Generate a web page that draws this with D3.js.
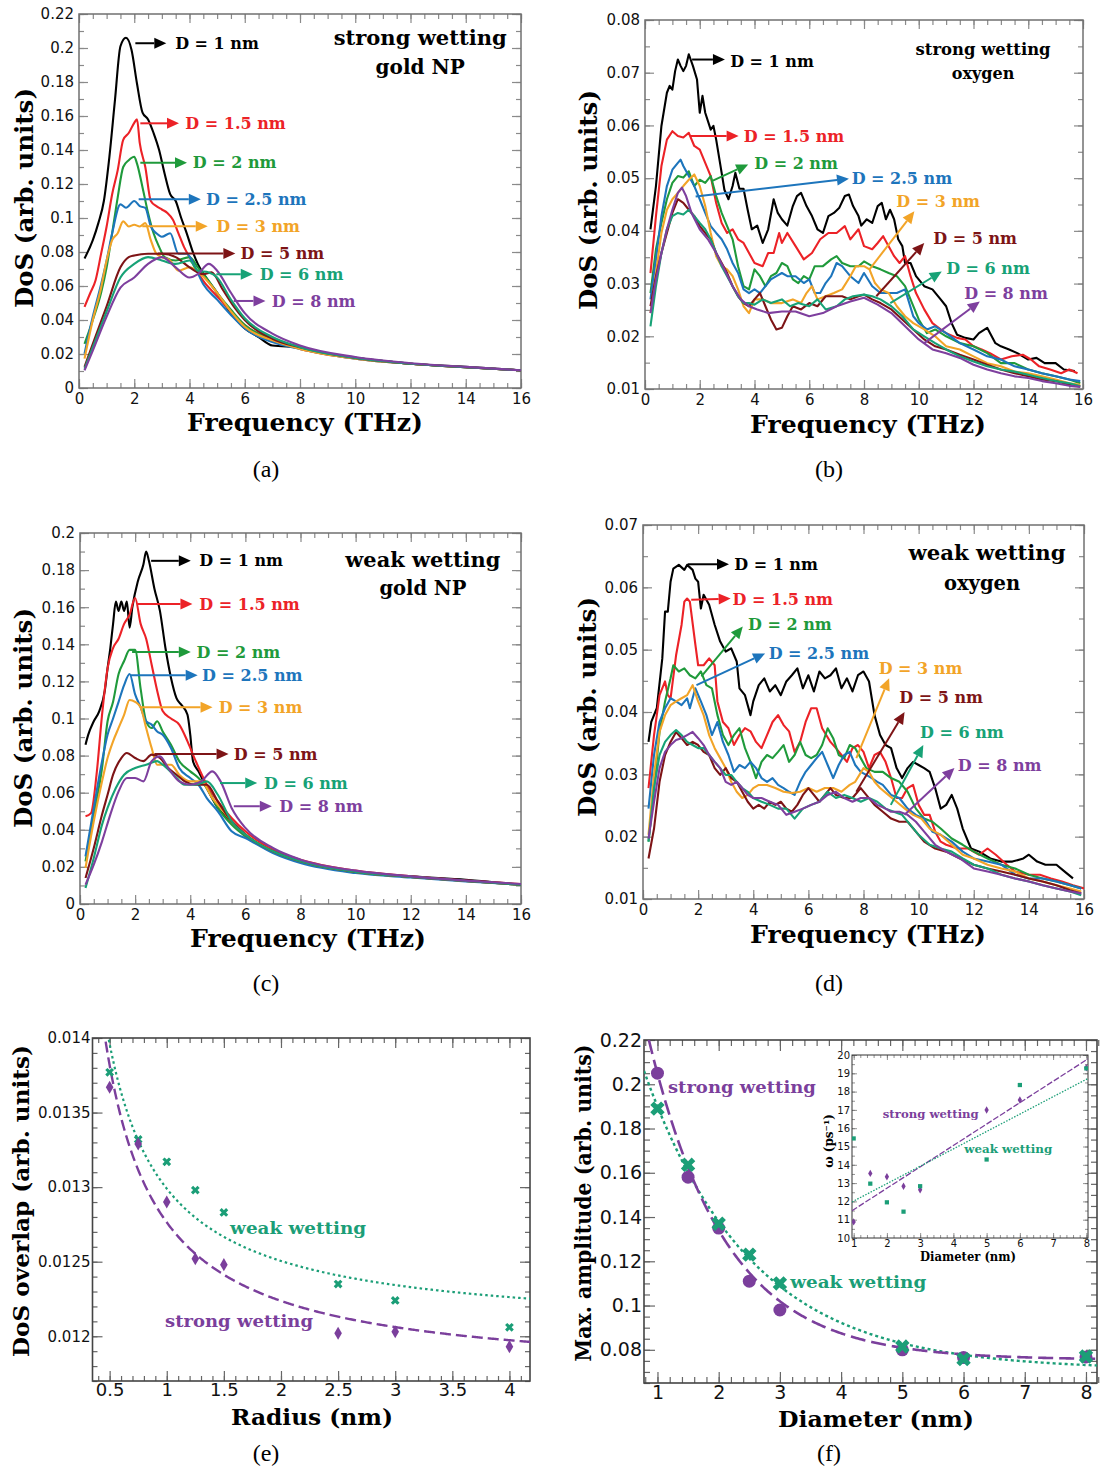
<!DOCTYPE html>
<html><head><meta charset="utf-8">
<script src="https://cdn.jsdelivr.net/npm/d3@7"></script>
<style>body{margin:0;background:#fff}svg{display:block}</style>
</head><body><svg id="c" width="1100" height="1468"></svg>
<script>
// ---------------- DATA ----------------
const diameters = ["1", "1.5", "2", "2.5", "3", "5", "6", "8"];
const freqTicks = [0, 2, 4, 6, 8, 10, 12, 14, 16];

// (a) strong wetting, gold NP   [frequency THz, DoS]
const a_D1 = [[0.2,0.0762],[0.5,0.087],[0.7,0.097],[0.9,0.11],[1.1,0.136],[1.3,0.169],[1.5,0.201],[1.7,0.206],[1.9,0.199],[2.1,0.179],[2.3,0.162],[2.5,0.158],[2.7,0.15],[2.9,0.14],[3.1,0.126],[3.3,0.114],[3.5,0.11],[3.7,0.1],[3.9,0.091],[4.1,0.081],[4.3,0.073],[4.6,0.065],[5,0.056],[5.5,0.044],[6,0.035],[6.5,0.03],[7,0.025],[8,0.024],[9,0.02],[10,0.0177],[12,0.0143],[14,0.0124],[16,0.0104]];
const a_D1_5 = [[0.2,0.0477],[0.4,0.0556],[0.6,0.0634],[0.8,0.079],[1,0.095],[1.2,0.114],[1.4,0.128],[1.6,0.146],[1.8,0.15],[2,0.156],[2.1,0.158],[2.2,0.144],[2.4,0.13],[2.6,0.11],[2.8,0.107],[3,0.105],[3.2,0.103],[3.4,0.099],[3.6,0.091],[3.8,0.083],[4,0.077],[4.5,0.063],[5,0.054],[5.5,0.045],[6,0.037],[7,0.028],[8,0.023],[10,0.0173],[12,0.0143],[14,0.0122],[16,0.0104]];
const a_D2 = [[0.2,0.026],[0.5,0.04],[0.8,0.056],[1,0.071],[1.2,0.091],[1.4,0.112],[1.6,0.13],[1.8,0.134],[2,0.136],[2.1,0.132],[2.3,0.118],[2.5,0.103],[2.7,0.091],[2.9,0.083],[3.1,0.077],[3.5,0.075],[4,0.077],[4.3,0.071],[4.6,0.065],[5,0.056],[5.5,0.046],[6,0.037],[7,0.029],[8,0.024],[10,0.0177],[12,0.0143],[14,0.0122],[16,0.0104]];
const a_D2_5 = [[0.2,0.0202],[0.5,0.042],[0.8,0.061],[1,0.075],[1.2,0.091],[1.5,0.108],[1.7,0.106],[2,0.11],[2.2,0.107],[2.4,0.106],[2.6,0.095],[2.8,0.091],[3,0.089],[3.3,0.091],[3.6,0.079],[3.9,0.079],[4.2,0.071],[4.5,0.061],[5,0.052],[5.5,0.043],[6,0.035],[7,0.027],[8,0.023],[10,0.0173],[12,0.0143],[14,0.0122],[16,0.0104]];
const a_D3 = [[0.2,0.0173],[0.5,0.04],[0.8,0.059],[1,0.075],[1.2,0.087],[1.4,0.091],[1.6,0.098],[1.8,0.095],[2,0.096],[2.2,0.095],[2.4,0.097],[2.6,0.087],[2.8,0.079],[3,0.077],[3.3,0.075],[3.6,0.069],[4,0.071],[4.4,0.067],[5,0.056],[5.5,0.045],[6,0.036],[7,0.028],[8,0.023],[10,0.0173],[12,0.0143],[14,0.0122],[16,0.0104]];
const a_D5 = [[0.2,0.0124],[0.5,0.026],[1,0.048],[1.5,0.071],[1.8,0.077],[2,0.078],[2.5,0.079],[3,0.079],[3.5,0.077],[4,0.071],[4.5,0.067],[4.8,0.068],[5.2,0.058],[5.6,0.048],[6,0.04],[7,0.029],[8,0.024],[10,0.0177],[12,0.0143],[14,0.0122],[16,0.0104]];
const a_D6 = [[0.2,0.0114],[0.5,0.024],[1,0.045],[1.5,0.065],[2,0.073],[2.5,0.077],[3,0.075],[3.5,0.073],[4,0.075],[4.3,0.069],[4.7,0.068],[5,0.065],[5.5,0.052],[6,0.041],[7,0.03],[8,0.024],[10,0.0177],[12,0.0143],[14,0.0122],[16,0.0104]];
const a_D8 = [[0.2,0.0104],[0.5,0.022],[1,0.042],[1.5,0.059],[2,0.065],[2.5,0.073],[3,0.077],[3.5,0.071],[4,0.065],[4.3,0.067],[4.7,0.073],[5,0.069],[5.5,0.056],[6,0.044],[7,0.032],[8,0.025],[10,0.0182],[12,0.0146],[14,0.0124],[16,0.0104]];

// (b) strong wetting, oxygen
const b_D1 = [[0.2,0.0403],[0.4,0.0485],[0.6,0.0599],[0.8,0.0662],[0.9,0.0675],[1,0.0668],[1.1,0.0703],[1.2,0.0725],[1.3,0.0713],[1.4,0.0703],[1.5,0.0713],[1.6,0.0735],[1.75,0.0713],[1.9,0.0687],[2,0.0624],[2.1,0.0656],[2.2,0.0624],[2.4,0.0592],[2.5,0.0599],[2.6,0.0573],[2.8,0.051],[2.9,0.0478],[3.05,0.046],[3.2,0.0485],[3.3,0.051],[3.45,0.048],[3.6,0.048],[3.75,0.044],[3.9,0.0403],[4.1,0.041],[4.3,0.0377],[4.5,0.0403],[4.7,0.046],[4.85,0.0434],[5,0.0422],[5.2,0.041],[5.4,0.0447],[5.55,0.0466],[5.7,0.0472],[5.9,0.0447],[6.1,0.0428],[6.3,0.0403],[6.5,0.0396],[6.7,0.0428],[6.9,0.0434],[7.1,0.0444],[7.3,0.0466],[7.45,0.0469],[7.6,0.0447],[7.8,0.0428],[7.9,0.041],[8.1,0.0422],[8.3,0.0415],[8.5,0.0447],[8.65,0.0453],[8.8,0.0422],[8.95,0.044],[9.1,0.0422],[9.25,0.0384],[9.4,0.0371],[9.5,0.0339],[9.7,0.0339],[9.9,0.0314],[10.2,0.0295],[10.5,0.0289],[10.8,0.027],[11,0.0257],[11.2,0.0225],[11.4,0.0203],[11.7,0.0197],[12,0.0194],[12.2,0.0206],[12.5,0.0216],[12.8,0.0187],[13,0.0181],[13.3,0.0175],[13.6,0.0168],[14,0.0156],[14.3,0.0159],[14.6,0.0149],[15,0.0149],[15.3,0.0137],[15.7,0.0134]];
const b_D1_5 = [[0.2,0.032],[0.4,0.0428],[0.6,0.0523],[0.8,0.0573],[1,0.0589],[1.2,0.058],[1.4,0.0577],[1.6,0.0586],[1.8,0.0561],[2,0.0554],[2.2,0.0529],[2.4,0.0504],[2.6,0.0453],[2.8,0.0415],[3,0.0396],[3.2,0.0403],[3.4,0.0384],[3.6,0.0377],[3.8,0.0358],[4,0.0339],[4.3,0.0333],[4.5,0.0358],[4.7,0.0358],[4.9,0.0396],[5,0.0377],[5.2,0.0396],[5.5,0.0371],[5.8,0.0346],[6.1,0.0358],[6.4,0.0384],[6.7,0.0396],[7,0.0396],[7.3,0.0409],[7.5,0.0384],[7.8,0.0403],[8,0.0371],[8.3,0.0365],[8.5,0.0377],[8.7,0.039],[8.9,0.0371],[9.1,0.0352],[9.3,0.0339],[9.5,0.0352],[9.7,0.0314],[9.9,0.0282],[10.2,0.0251],[10.5,0.0225],[10.8,0.0213],[11,0.0206],[11.4,0.0197],[11.7,0.0194],[12,0.0181],[12.3,0.0175],[12.6,0.0168],[13,0.0156],[13.4,0.0162],[13.8,0.0165],[14.1,0.0156],[14.4,0.0143],[14.8,0.0137],[15.2,0.013],[15.5,0.0137],[15.8,0.013]];
const b_D2 = [[0.2,0.0282],[0.4,0.0365],[0.6,0.0415],[0.8,0.046],[1,0.0491],[1.2,0.0504],[1.4,0.0501],[1.6,0.0513],[1.8,0.0485],[2,0.0497],[2.2,0.0491],[2.4,0.0504],[2.6,0.0466],[2.8,0.0434],[3,0.0409],[3.2,0.0384],[3.4,0.0333],[3.6,0.0295],[3.8,0.0289],[4,0.0327],[4.2,0.0314],[4.4,0.0295],[4.6,0.0314],[4.8,0.032],[5,0.0339],[5.2,0.0333],[5.4,0.0308],[5.6,0.0301],[5.8,0.0314],[6,0.0308],[6.2,0.0333],[6.5,0.0333],[6.8,0.0346],[7,0.0352],[7.2,0.0339],[7.5,0.0333],[7.8,0.0333],[8,0.0342],[8.3,0.0333],[8.6,0.0327],[8.9,0.032],[9.2,0.0314],[9.5,0.0295],[9.7,0.027],[10,0.0232],[10.3,0.0206],[10.6,0.0213],[11,0.02],[11.5,0.0187],[12,0.0181],[12.5,0.0168],[13,0.0149],[13.5,0.0149],[14,0.0137],[14.5,0.013],[15,0.0124],[15.5,0.0118],[15.9,0.0111]];
const b_D2_5 = [[0.2,0.027],[0.4,0.0346],[0.6,0.0428],[0.8,0.0485],[1,0.0516],[1.2,0.0529],[1.3,0.0535],[1.4,0.0523],[1.6,0.0504],[1.8,0.0485],[2,0.046],[2.2,0.0434],[2.4,0.0409],[2.6,0.0396],[2.8,0.0384],[3,0.0365],[3.2,0.0339],[3.4,0.032],[3.6,0.0289],[3.8,0.0282],[4,0.0289],[4.2,0.0282],[4.4,0.0295],[4.6,0.0308],[4.8,0.0314],[5,0.032],[5.2,0.0314],[5.5,0.0314],[5.8,0.0301],[6,0.0308],[6.2,0.0282],[6.4,0.0282],[6.6,0.0301],[6.8,0.0314],[7,0.0339],[7.2,0.0333],[7.5,0.0314],[7.8,0.0301],[8,0.032],[8.3,0.0295],[8.6,0.0282],[8.9,0.0282],[9.2,0.0282],[9.5,0.0289],[9.8,0.0238],[10,0.0225],[10.3,0.0213],[10.6,0.0219],[11,0.0206],[11.5,0.0187],[12,0.0175],[12.5,0.0162],[13,0.0156],[13.5,0.0143],[14,0.0137],[14.5,0.013],[15,0.0124],[15.5,0.0118],[15.9,0.0115]];
const b_D3 = [[0.2,0.0244],[0.4,0.032],[0.6,0.0396],[0.8,0.044],[1,0.046],[1.2,0.0472],[1.4,0.0485],[1.6,0.0497],[1.8,0.0507],[2,0.0485],[2.2,0.0447],[2.4,0.0396],[2.6,0.0352],[2.8,0.0333],[3,0.0327],[3.2,0.0314],[3.4,0.0289],[3.6,0.0257],[3.8,0.0244],[4,0.027],[4.3,0.027],[4.6,0.0263],[5,0.0263],[5.4,0.027],[5.7,0.0263],[5.9,0.0282],[6.1,0.0295],[6.3,0.027],[6.6,0.0276],[6.9,0.0282],[7.2,0.0289],[7.5,0.0314],[7.7,0.0333],[8,0.0333],[8.2,0.0327],[8.4,0.0301],[8.6,0.0289],[8.9,0.0282],[9.2,0.0257],[9.5,0.0238],[9.8,0.0225],[10.2,0.0213],[10.6,0.02],[11,0.0181],[11.5,0.0175],[12,0.0162],[12.5,0.0149],[13,0.0143],[13.5,0.0133],[14,0.013],[14.5,0.0124],[15,0.0118],[15.5,0.0111],[15.9,0.0108]];
const b_D5 = [[0.2,0.0257],[0.4,0.0314],[0.6,0.0358],[0.8,0.0396],[1,0.0434],[1.2,0.046],[1.4,0.0453],[1.6,0.044],[1.8,0.0428],[2,0.0409],[2.2,0.0396],[2.4,0.0384],[2.6,0.0358],[2.8,0.0339],[3,0.032],[3.2,0.0295],[3.4,0.0276],[3.6,0.0263],[3.8,0.0257],[4,0.027],[4.2,0.0282],[4.4,0.0257],[4.6,0.0232],[4.8,0.0213],[5,0.0216],[5.2,0.0238],[5.4,0.0257],[5.7,0.0251],[6,0.0263],[6.3,0.0257],[6.6,0.0276],[6.9,0.0276],[7.2,0.0276],[7.5,0.027],[7.8,0.0276],[8,0.0279],[8.3,0.027],[8.6,0.0263],[9,0.0251],[9.4,0.0232],[9.8,0.0213],[10.2,0.0194],[10.6,0.0181],[11,0.0175],[11.5,0.0165],[12,0.0156],[12.5,0.0146],[13,0.0137],[13.5,0.013],[14,0.0124],[14.5,0.0118],[15,0.0115],[15.5,0.0108],[15.9,0.0105]];
const b_D6 = [[0.2,0.0219],[0.4,0.0295],[0.6,0.0358],[0.8,0.0403],[1,0.0428],[1.2,0.0434],[1.4,0.0431],[1.6,0.044],[1.8,0.0428],[2,0.0415],[2.2,0.0403],[2.4,0.0384],[2.6,0.0358],[2.8,0.0333],[3,0.0314],[3.2,0.0295],[3.4,0.0276],[3.6,0.0263],[3.8,0.0263],[4,0.026],[4.3,0.027],[4.6,0.0263],[5,0.027],[5.3,0.0257],[5.6,0.0263],[6,0.0257],[6.3,0.027],[6.6,0.0251],[7,0.0257],[7.3,0.027],[7.6,0.0276],[8,0.0279],[8.3,0.0276],[8.6,0.027],[9,0.0257],[9.4,0.0238],[9.8,0.0213],[10.2,0.02],[10.6,0.0187],[11,0.0175],[11.5,0.0162],[12,0.0152],[12.5,0.0143],[13,0.0137],[13.5,0.0133],[14,0.0127],[14.5,0.0121],[15,0.0115],[15.5,0.0111],[15.9,0.0105]];
const b_D8 = [[0.2,0.0244],[0.4,0.0308],[0.6,0.0358],[0.8,0.0403],[1,0.044],[1.2,0.0472],[1.35,0.0482],[1.5,0.0466],[1.7,0.0434],[2,0.0403],[2.3,0.0384],[2.6,0.0358],[2.9,0.0327],[3.2,0.0295],[3.5,0.027],[3.8,0.0257],[4.1,0.0251],[4.5,0.0244],[5,0.0247],[5.5,0.0247],[6,0.0238],[6.5,0.0244],[7,0.0257],[7.5,0.0266],[8,0.0273],[8.5,0.026],[9,0.0244],[9.5,0.0219],[10,0.0194],[10.5,0.0175],[11,0.0168],[11.5,0.0159],[12,0.0146],[12.5,0.0137],[13,0.013],[13.5,0.0124],[14,0.0121],[14.5,0.0115],[15,0.0111],[15.5,0.0106],[15.9,0.0104]];

// (c) weak wetting, gold NP
const c_D1 = [[0.2,0.0859],[0.3,0.0913],[0.5,0.0985],[0.7,0.104],[0.9,0.115],[1,0.127],[1.1,0.138],[1.2,0.151],[1.3,0.163],[1.4,0.158],[1.5,0.163],[1.6,0.158],[1.7,0.163],[1.8,0.149],[1.9,0.16],[2.1,0.174],[2.3,0.183],[2.4,0.19],[2.5,0.185],[2.7,0.17],[2.9,0.158],[3.1,0.138],[3.3,0.122],[3.5,0.111],[3.7,0.107],[3.9,0.102],[4,0.0913],[4.1,0.077],[4.3,0.0715],[4.6,0.0625],[5,0.0518],[5.5,0.0446],[6,0.0374],[7,0.0284],[8,0.023],[10,0.0176],[12,0.0149],[14,0.0131],[16,0.0104]];
const c_D1_5 = [[0.2,0.0473],[0.4,0.049],[0.6,0.0697],[0.8,0.102],[1,0.127],[1.2,0.138],[1.4,0.143],[1.6,0.151],[1.8,0.156],[2,0.165],[2.2,0.151],[2.4,0.143],[2.6,0.129],[2.8,0.115],[3,0.104],[3.3,0.1],[3.6,0.0967],[3.9,0.0877],[4.2,0.077],[4.6,0.0643],[5,0.0553],[5.5,0.0464],[6,0.0392],[7,0.0293],[8,0.0239],[10,0.018],[12,0.0149],[14,0.0126],[16,0.0108]];
const c_D2 = [[0.2,0.023],[0.5,0.0482],[0.8,0.0733],[1,0.0985],[1.2,0.109],[1.4,0.124],[1.6,0.131],[1.8,0.137],[2,0.137],[2.2,0.116],[2.4,0.0985],[2.6,0.0949],[2.8,0.0985],[3,0.093],[3.3,0.0859],[3.6,0.077],[4,0.0715],[4.3,0.0679],[4.6,0.0625],[5,0.0518],[5.5,0.0428],[6,0.0365],[7,0.0284],[8,0.023],[10,0.0173],[12,0.0146],[14,0.0124],[16,0.0104]];
const c_D2_5 = [[0.2,0.0257],[0.5,0.0518],[0.8,0.077],[1,0.0913],[1.2,0.1],[1.4,0.109],[1.6,0.118],[1.8,0.124],[2,0.113],[2.2,0.106],[2.4,0.0985],[2.6,0.0967],[2.8,0.093],[3,0.0913],[3.3,0.0841],[3.6,0.0733],[4,0.0679],[4.3,0.0643],[4.6,0.0571],[5,0.05],[5.5,0.0392],[6,0.0356],[7,0.0275],[8,0.0221],[10,0.0167],[12,0.0143],[14,0.0122],[16,0.0104]];
const c_D3 = [[0.2,0.0194],[0.5,0.0446],[0.8,0.0661],[1,0.0787],[1.2,0.0877],[1.4,0.0949],[1.6,0.102],[1.8,0.11],[2,0.109],[2.2,0.106],[2.4,0.0949],[2.6,0.0841],[2.8,0.0751],[3,0.0751],[3.3,0.0751],[3.6,0.0697],[4,0.0661],[4.4,0.0661],[4.8,0.0571],[5.2,0.05],[5.6,0.0428],[6,0.0374],[7,0.0284],[8,0.023],[10,0.0173],[12,0.0146],[14,0.0124],[16,0.0104]];
const c_D5 = [[0.2,0.014],[0.5,0.0302],[0.8,0.0482],[1,0.0589],[1.2,0.0697],[1.5,0.0787],[1.7,0.0814],[2,0.0787],[2.3,0.077],[2.6,0.0805],[2.9,0.0787],[3.2,0.0733],[3.5,0.0697],[3.8,0.0661],[4.2,0.0643],[4.6,0.0643],[5,0.0553],[5.5,0.0446],[6,0.0374],[7,0.0284],[8,0.023],[10,0.0173],[12,0.0146],[14,0.0124],[16,0.0104]];
const c_D6 = [[0.2,0.0086],[0.5,0.0248],[0.8,0.0428],[1,0.0518],[1.3,0.0625],[1.6,0.0697],[2,0.0733],[2.4,0.0751],[2.8,0.077],[3,0.0751],[3.4,0.0697],[3.8,0.0643],[4.2,0.0643],[4.6,0.0661],[5,0.0589],[5.5,0.0446],[6,0.0374],[7,0.0284],[8,0.023],[10,0.0173],[12,0.0146],[14,0.0124],[16,0.0104]];
const c_D8 = [[0.2,0.0104],[0.5,0.0212],[0.8,0.0338],[1.1,0.0482],[1.4,0.0607],[1.7,0.0679],[2,0.0679],[2.3,0.0661],[2.6,0.077],[2.9,0.0796],[3.2,0.0733],[3.6,0.0661],[4,0.0643],[4.4,0.0661],[4.8,0.0715],[5.1,0.0661],[5.5,0.0518],[6,0.041],[7,0.0302],[8,0.0239],[10,0.018],[12,0.0149],[14,0.0126],[16,0.0108]];

// (d) weak wetting, oxygen
const d_D1 = [[0.2,0.0352],[0.3,0.0384],[0.5,0.0406],[0.7,0.0486],[0.8,0.0561],[0.9,0.0561],[1,0.0609],[1.1,0.063],[1.3,0.0636],[1.5,0.0628],[1.6,0.0636],[1.8,0.0628],[1.9,0.0614],[2,0.0609],[2.1,0.0566],[2.2,0.0588],[2.4,0.0572],[2.6,0.054],[2.8,0.0513],[3,0.0497],[3.2,0.0502],[3.4,0.0481],[3.5,0.0438],[3.7,0.0427],[3.9,0.0395],[4,0.0417],[4.2,0.0443],[4.4,0.0454],[4.6,0.0433],[4.8,0.0443],[5,0.0427],[5.2,0.0449],[5.4,0.0459],[5.6,0.047],[5.8,0.0438],[6,0.0459],[6.2,0.0433],[6.4,0.0465],[6.6,0.0454],[6.8,0.0459],[7,0.047],[7.2,0.0438],[7.4,0.0454],[7.6,0.0433],[7.8,0.0459],[8,0.0465],[8.2,0.0449],[8.4,0.0395],[8.6,0.0363],[8.8,0.0347],[9,0.0342],[9.2,0.031],[9.4,0.0294],[9.6,0.031],[9.8,0.032],[10,0.0315],[10.2,0.031],[10.4,0.0304],[10.6,0.0278],[10.8,0.0245],[11,0.0251],[11.2,0.0267],[11.4,0.0245],[11.6,0.0213],[11.9,0.0181],[12.2,0.0176],[12.6,0.0165],[13,0.016],[13.4,0.016],[13.8,0.0165],[14,0.0171],[14.3,0.016],[14.6,0.0155],[15,0.0155],[15.3,0.0144],[15.6,0.0133]];
const d_D1_5 = [[0.2,0.0278],[0.4,0.0363],[0.6,0.0427],[0.8,0.0449],[0.9,0.0427],[1,0.0422],[1.2,0.0491],[1.4,0.054],[1.5,0.0577],[1.6,0.0582],[1.7,0.0577],[1.9,0.0508],[2,0.0475],[2.2,0.0475],[2.4,0.0486],[2.6,0.0475],[2.7,0.0417],[2.9,0.0384],[3.1,0.0374],[3.3,0.0347],[3.5,0.0363],[3.7,0.0374],[3.9,0.0369],[4.1,0.0352],[4.3,0.0342],[4.5,0.0363],[4.7,0.0384],[4.9,0.0395],[5.1,0.0379],[5.3,0.0369],[5.5,0.0336],[5.7,0.0352],[5.9,0.0384],[6.1,0.0406],[6.3,0.0406],[6.5,0.0374],[6.8,0.0352],[7,0.0342],[7.2,0.0331],[7.4,0.032],[7.6,0.0342],[7.8,0.0347],[8,0.0336],[8.2,0.031],[8.4,0.0331],[8.6,0.0336],[8.8,0.032],[9,0.0294],[9.2,0.0262],[9.4,0.0262],[9.6,0.0278],[9.8,0.0283],[10,0.0251],[10.2,0.0235],[10.4,0.0235],[10.6,0.0208],[10.8,0.0192],[11,0.0187],[11.4,0.0181],[11.8,0.0181],[12.2,0.0171],[12.5,0.0181],[12.8,0.0171],[13.2,0.0155],[13.5,0.0144],[14,0.0139],[14.4,0.0139],[14.8,0.0133],[15.2,0.0128],[15.6,0.0122],[16,0.0117]];
const d_D2 = [[0.2,0.0192],[0.4,0.0278],[0.6,0.0368],[0.8,0.0417],[1,0.0454],[1.1,0.0475],[1.3,0.0465],[1.5,0.047],[1.7,0.0459],[1.9,0.0454],[2.1,0.0465],[2.3,0.0443],[2.5,0.0438],[2.7,0.0395],[2.9,0.0363],[3.1,0.0347],[3.3,0.0363],[3.5,0.0374],[3.7,0.0342],[3.9,0.032],[4.1,0.0294],[4.3,0.032],[4.5,0.0331],[4.7,0.0326],[4.9,0.0336],[5.1,0.0347],[5.3,0.032],[5.5,0.0331],[5.7,0.0352],[5.9,0.0331],[6.1,0.0326],[6.3,0.0331],[6.5,0.0347],[6.7,0.0374],[6.9,0.0358],[7.1,0.0331],[7.3,0.0326],[7.5,0.0347],[7.7,0.0342],[7.9,0.0326],[8.1,0.031],[8.4,0.0304],[8.7,0.0304],[9,0.0294],[9.3,0.0288],[9.6,0.0272],[9.9,0.0245],[10.2,0.0229],[10.5,0.0224],[10.8,0.0213],[11.2,0.0197],[11.6,0.0187],[12,0.0176],[12.5,0.0165],[13,0.0155],[13.5,0.0149],[14,0.0139],[14.5,0.0133],[15,0.0128],[15.5,0.0122],[15.9,0.0117]];
const d_D2_5 = [[0.2,0.0245],[0.4,0.0331],[0.6,0.0384],[0.8,0.0406],[1,0.0422],[1.2,0.0417],[1.4,0.0411],[1.6,0.0422],[1.7,0.0406],[1.9,0.0438],[2.1,0.0417],[2.3,0.0395],[2.5,0.0363],[2.7,0.0384],[2.9,0.0352],[3.1,0.0331],[3.3,0.0304],[3.5,0.0315],[3.7,0.031],[3.9,0.032],[4.1,0.031],[4.3,0.0294],[4.5,0.0288],[4.7,0.0294],[4.9,0.0283],[5.1,0.0278],[5.3,0.0272],[5.5,0.0267],[5.7,0.0288],[5.9,0.0304],[6.1,0.0315],[6.3,0.0326],[6.5,0.0336],[6.7,0.0315],[6.9,0.0294],[7.1,0.0315],[7.3,0.0331],[7.5,0.0336],[7.7,0.0315],[7.9,0.0304],[8.1,0.0299],[8.3,0.0294],[8.5,0.0288],[8.7,0.0283],[9,0.0267],[9.3,0.0262],[9.6,0.0245],[9.9,0.0235],[10.2,0.0229],[10.5,0.0208],[10.8,0.0203],[11.2,0.0192],[11.6,0.0176],[12,0.0165],[12.5,0.016],[13,0.0155],[13.5,0.0139],[14,0.0133],[14.5,0.0133],[15,0.0128],[15.5,0.0122],[15.9,0.0117]];
const d_D3 = [[0.2,0.0203],[0.4,0.0299],[0.6,0.0368],[0.8,0.0395],[1,0.0411],[1.2,0.0417],[1.4,0.0422],[1.6,0.0427],[1.8,0.0443],[2,0.0417],[2.2,0.0395],[2.4,0.0363],[2.6,0.0342],[2.8,0.0326],[3,0.031],[3.2,0.0288],[3.4,0.0272],[3.6,0.0262],[3.8,0.0267],[4,0.0278],[4.2,0.0283],[4.5,0.0283],[4.8,0.0278],[5.1,0.0272],[5.4,0.027],[5.7,0.0272],[6,0.0278],[6.3,0.0272],[6.6,0.0278],[6.9,0.0278],[7.2,0.0272],[7.5,0.0283],[7.7,0.0288],[8,0.031],[8.2,0.0304],[8.4,0.0288],[8.6,0.0278],[8.9,0.0267],[9.2,0.0256],[9.5,0.0245],[9.8,0.0235],[10.1,0.0229],[10.4,0.0213],[10.8,0.0203],[11.2,0.0187],[11.6,0.0171],[12,0.0165],[12.5,0.0155],[13,0.0149],[13.5,0.0144],[14,0.0133],[14.5,0.0128],[15,0.0122],[15.5,0.0117],[15.9,0.0112]];
const d_D5 = [[0.2,0.0165],[0.4,0.0213],[0.6,0.0288],[0.8,0.0331],[1,0.0352],[1.2,0.0368],[1.4,0.0358],[1.6,0.0347],[1.8,0.0352],[2,0.0347],[2.2,0.0336],[2.4,0.0331],[2.6,0.031],[2.8,0.0299],[3,0.031],[3.2,0.0294],[3.4,0.0288],[3.6,0.0272],[3.8,0.0256],[4,0.0245],[4.2,0.0251],[4.4,0.0245],[4.6,0.0256],[4.8,0.0251],[5,0.0256],[5.2,0.0245],[5.4,0.024],[5.6,0.0251],[5.8,0.0267],[6,0.0278],[6.2,0.0267],[6.4,0.0256],[6.6,0.0267],[6.8,0.0278],[7,0.0267],[7.3,0.0262],[7.6,0.0262],[7.9,0.0278],[8.1,0.0267],[8.4,0.0251],[8.7,0.024],[9,0.0229],[9.3,0.0224],[9.6,0.0224],[9.9,0.0208],[10.2,0.0192],[10.6,0.0181],[11,0.0176],[11.5,0.0165],[12,0.0155],[12.5,0.0149],[13,0.0144],[13.5,0.0139],[14,0.0133],[14.5,0.0128],[15,0.0122],[15.5,0.0114],[15.9,0.0109]];
const d_D6 = [[0.2,0.0192],[0.4,0.0278],[0.6,0.0331],[0.8,0.0352],[1,0.0363],[1.2,0.0371],[1.4,0.0363],[1.6,0.0352],[1.8,0.0347],[2,0.0342],[2.2,0.0342],[2.4,0.0331],[2.6,0.032],[2.8,0.031],[3,0.0299],[3.2,0.0299],[3.4,0.0288],[3.6,0.0278],[3.8,0.0272],[4,0.0262],[4.3,0.0256],[4.6,0.0251],[4.9,0.0245],[5.2,0.0245],[5.5,0.0229],[5.8,0.0245],[6.1,0.0251],[6.4,0.0256],[6.7,0.0272],[7,0.0262],[7.3,0.0267],[7.6,0.0262],[7.9,0.0256],[8.2,0.0262],[8.5,0.0256],[8.8,0.0245],[9.1,0.024],[9.4,0.0235],[9.7,0.0219],[10,0.0203],[10.4,0.0187],[10.8,0.0181],[11.2,0.0176],[11.6,0.0165],[12,0.0155],[12.5,0.0149],[13,0.0139],[13.5,0.0133],[14,0.0128],[14.5,0.0122],[15,0.0117],[15.5,0.0112],[15.9,0.0106]];
const d_D8 = [[0.2,0.0197],[0.4,0.0256],[0.6,0.031],[0.8,0.0336],[1,0.0347],[1.2,0.0355],[1.4,0.0358],[1.6,0.0363],[1.8,0.0368],[2,0.0358],[2.2,0.0347],[2.4,0.0331],[2.6,0.032],[2.8,0.031],[3,0.0288],[3.2,0.0283],[3.4,0.0288],[3.6,0.0278],[3.8,0.0267],[4,0.0262],[4.3,0.0262],[4.6,0.0256],[4.9,0.0251],[5.2,0.0235],[5.5,0.024],[5.8,0.0245],[6.1,0.0251],[6.4,0.0256],[6.7,0.0267],[7,0.0272],[7.3,0.0262],[7.6,0.0256],[7.9,0.0262],[8.2,0.0262],[8.5,0.0251],[8.8,0.0245],[9,0.024],[9.3,0.024],[9.6,0.0235],[9.9,0.0224],[10.2,0.0208],[10.6,0.0187],[11,0.0176],[11.5,0.0165],[12,0.0149],[12.5,0.0144],[13,0.0139],[13.5,0.0133],[14,0.0128],[14.5,0.0122],[15,0.0117],[15.5,0.0112],[15.9,0.0109]];

// (e) DoS overlap vs radius
const radius = [0.5, 0.75, 1, 1.25, 1.5, 2.5, 3, 4];
const overlapWeak = [0.01377, 0.01332, 0.01317, 0.01298, 0.01283, 0.01235, 0.01224, 0.01206];
const overlapStrong = [0.01367, 0.01329, 0.0129, 0.01252, 0.01248, 0.01202, 0.01203, 0.01193];
const overlapFitWeak = [0.01202, 0.00097];     // a + b / r
const overlapFitStrong = [0.01171, 0.001054];  // a + b / r

// (f) max amplitude vs diameter
const diam = [1, 1.5, 2, 2.5, 3, 5, 6, 8];
const ampStrong = [0.205, 0.158, 0.135, 0.111, 0.098, 0.08, 0.0765, 0.0768];
const ampWeak = [0.189, 0.1636, 0.137, 0.123, 0.11, 0.0815, 0.0758, 0.077];
const ampFitStrong = [0.0755, 0.286, 1.26];   // a + b exp(-D/c)
const ampFitWeak = [0.071, 0.2114, 1.74];

// (f) inset: omega vs diameter
const omegaStrong = [10.88, 13.53, 13.35, 12.83, 12.64, 16.99, 17.54, 19.3];
const omegaWeak = [15.44, 12.97, 11.95, 11.44, 12.83, 14.29, 18.36, 19.27];
const omegaFitStrong = [1.169, 10.38];   // slope, intercept
const omegaFitWeak = [0.95, 11.07];

// ---------------- STYLE / LAYOUT ----------------
const seriesColors = ["#000000", "#ec2227", "#1f9a3b", "#1d75bc", "#f2a428", "#7d1416", "#17a276", "#7e3f9e"];
const colWeak = "#1b9e77", colStrong = "#7b3f9c";
const SERIF = "'DejaVu Serif', serif", SANS = "'DejaVu Sans', sans-serif";

// annotations [x1,y1,x2,y2,textX,textY] in data units
const annA = [[2.04,0.2028,3.16,0.2028,3.48,0.2028],[2.22,0.1557,3.62,0.1557,3.85,0.1557],[2.22,0.1325,3.91,0.1325,4.12,0.1325],[2.16,0.111,4.41,0.111,4.6,0.111],[2.29,0.0952,4.66,0.0952,4.97,0.0952],[2.85,0.0791,5.66,0.0791,5.85,0.0791],[4.97,0.0669,6.29,0.0669,6.54,0.0669],[5.6,0.0512,6.75,0.0512,6.98,0.0512]];
const annB = [[1.72,0.0725,2.92,0.0725,3.11,0.0722],[1.66,0.058,3.42,0.058,3.61,0.058],[2.42,0.0494,3.77,0.0526,3.99,0.0528],[1.85,0.0465,7.45,0.0499,7.55,0.0499],[8.2,0.0327,9.84,0.0437,9.18,0.0456],[8.45,0.0276,10.2,0.0377,10.53,0.0385],[8.96,0.0263,10.84,0.0323,11.0,0.0328],[10.2,0.0187,12.23,0.0266,11.66,0.0282]];
const annC = [[2.58,0.185,4.02,0.185,4.33,0.185],[2.08,0.1617,4.08,0.1617,4.33,0.1617],[1.89,0.1359,4.02,0.1359,4.23,0.1359],[1.83,0.1233,4.27,0.1233,4.43,0.1233],[2.2,0.106,4.81,0.106,5.03,0.106],[2.7,0.0809,5.39,0.0809,5.58,0.0809],[5.08,0.0652,6.43,0.0652,6.68,0.0652],[5.58,0.0527,6.96,0.0527,7.23,0.0527]];
const annD = [[1.62,0.0637,3.12,0.0637,3.31,0.0636],[1.75,0.058,3.18,0.0582,3.25,0.058],[2.12,0.0457,3.62,0.0537,3.81,0.0541],[1.94,0.0443,4.43,0.0494,4.56,0.0494],[7.74,0.0326,8.93,0.0454,8.55,0.047],[7.74,0.0272,9.49,0.04,9.3,0.0423],[8.99,0.0251,10.17,0.0347,10.05,0.0368],[9.49,0.0235,11.3,0.031,11.42,0.0315]];

// ---------------- DRAW ----------------
const svg = d3.select("#c");
svg.append("rect").attr("width", 1100).attr("height", 1468).attr("fill", "#fff");
const defs = svg.append("defs");
let clipN = 0;

const fmt = d => String(+d.toFixed(5));
const steps = (lo, hi, st) => d3.range(Math.round((hi - lo) / st) + 1).map(i => +(lo + i * st).toFixed(6));

function frame(x, y, o) {
  const [x0, x1] = x.range(), [y0, y1] = y.range();
  const g = svg.append("g");
  const add = (axis, tr, vals, size, lab) => {
    const a = g.append("g").attr("transform", tr)
      .call(axis.tickValues(vals).tickSize(-size).tickPadding(o.pad).tickFormat(lab ? (o.fmt || fmt) : ""));
    a.select(".domain").remove();
    a.selectAll("line").attr("stroke", o.tc).attr("stroke-width", o.tw);
    a.selectAll("text").attr("font-family", SANS).attr("font-size", o.fs).attr("fill", "#111");
    return a;
  };
  add(d3.axisBottom(x), `translate(0,${y0})`, o.xMinor, o.minL, false);
  add(d3.axisTop(x), `translate(0,${y1})`, o.xMinor, o.minL, false);
  add(d3.axisLeft(y), `translate(${x0},0)`, o.yMinor, o.minL, false);
  add(d3.axisRight(y), `translate(${x1},0)`, o.yMinor, o.minL, false);
  add(d3.axisBottom(x), `translate(0,${y0})`, o.xMajor, o.majL, true);
  add(d3.axisTop(x), `translate(0,${y1})`, o.xMajor, o.majL, false);
  const ly = add(d3.axisLeft(y), `translate(${x0},0)`, o.yMajor, o.majL, true);
  if (o.yfs) ly.selectAll("text").attr("font-size", o.yfs);
  add(d3.axisRight(y), `translate(${x1},0)`, o.yMajor, o.majL, false);
  g.append("rect").attr("x", x0).attr("y", y1).attr("width", x1 - x0).attr("height", y0 - y1)
    .attr("fill", "none").attr("stroke", o.fc).attr("stroke-width", o.fw);
}

function clipFor(x, y) {
  const id = "clip" + (clipN++);
  const [x0, x1] = x.range(), [y0, y1] = y.range();
  defs.append("clipPath").attr("id", id).append("rect").attr("x", x0).attr("y", y1).attr("width", x1 - x0).attr("height", y0 - y1);
  return `url(#${id})`;
}

function text(t, x, y, o) {
  const el = svg.append("text").attr("x", x).attr("y", y).text(t)
    .attr("font-family", o.ff || SERIF).attr("font-weight", o.fw || "bold").attr("font-size", o.fs)
    .attr("fill", o.fill || "#000").attr("text-anchor", o.anchor || "middle").attr("dy", "0.35em");
  if (o.rot) el.attr("transform", `rotate(-90,${x},${y})`);
  if (o.len) el.attr("textLength", o.len).attr("lengthAdjust", "spacingAndGlyphs");
  return el;
}

function arrow(g, x1, y1, x2, y2, color) {
  const ang = Math.atan2(y2 - y1, x2 - x1), L = 12, W = 5.5;
  const bx = x2 - L * Math.cos(ang), by = y2 - L * Math.sin(ang);
  g.append("line").attr("x1", x1).attr("y1", y1).attr("x2", bx).attr("y2", by).attr("stroke", color).attr("stroke-width", 2);
  g.append("path").attr("d", `M${x2},${y2}L${bx - W * Math.sin(ang)},${by + W * Math.cos(ang)}L${bx + W * Math.sin(ang)},${by - W * Math.cos(ang)}Z`).attr("fill", color);
}

function dosPanel(p) {
  const x = d3.scaleLinear().domain([0, 16]).range([p.box[0], p.box[2]]);
  const y = d3.scaleLinear().domain(p.ydom).range([p.box[3], p.box[1]]);
  frame(x, y, {xMajor: freqTicks, xMinor: steps(0, 16, 0.5), yMajor: steps(p.ydom[0], p.ydom[1], p.ymaj), yMinor: steps(p.ydom[0], p.ydom[1], p.ymaj / 2),
    majL: 9, minL: 5, tc: "#8a8a8a", tw: 1.2, fc: "#707070", fw: 1.5, pad: 5, fs: 15});
  const clip = clipFor(x, y);
  const line = d3.line().x(d => x(d[0])).y(d => y(d[1])).curve(p.curve);
  const gl = svg.append("g").attr("clip-path", clip);
  p.series.forEach((s, i) => gl.append("path").attr("d", line(s)).attr("fill", "none")
    .attr("stroke", seriesColors[i]).attr("stroke-width", 2.1).attr("stroke-linejoin", "round"));
  const ga = svg.append("g");
  p.ann.forEach((a, i) => {
    arrow(ga, x(a[0]), y(a[1]), x(a[2]), y(a[3]), seriesColors[i]);
    text(`D = ${diameters[i]} nm`, x(a[4]), y(a[5]), {fs: 16, fill: seriesColors[i], anchor: "start"});
  });
  text(p.title[0], x(p.tpos[0]), y(p.tpos[1]), {fs: p.tfs, len: p.tlen});
  text(p.title[1], x(p.tpos[2]), y(p.tpos[3]), {fs: p.tfs});
  text("Frequency (THz)", p.xt[0], p.xt[1], {fs: 24, len: 236});
  text("DoS (arb. units)", p.yt[0], p.yt[1], {fs: 24, rot: true, len: 220});
  text(p.sub, p.subp[0], p.subp[1], {fs: 24, fw: "normal", ff: "'Liberation Serif', serif"});
}

dosPanel({box: [79, 14, 521, 388], ydom: [0, 0.22], ymaj: 0.02, series: [a_D1, a_D1_5, a_D2, a_D2_5, a_D3, a_D5, a_D6, a_D8], ann: annA,
  curve: d3.curveMonotoneX, title: ["strong wetting", "gold NP"], tpos: [12.35, 0.2057, 12.35, 0.189], tfs: 20, tlen: 173,
  xt: [305, 423], yt: [25, 198], sub: "(a)", subp: [266, 469]});
dosPanel({box: [645, 20, 1083, 389], ydom: [0.01, 0.08], ymaj: 0.01, series: [b_D1, b_D1_5, b_D2, b_D2_5, b_D3, b_D5, b_D6, b_D8], ann: annB,
  curve: d3.curveLinear, title: ["strong wetting", "oxygen"], tpos: [12.35, 0.0744, 12.35, 0.0699], tfs: 16, tlen: 135,
  xt: [868, 425], yt: [589, 200], sub: "(b)", subp: [829, 469]});
dosPanel({box: [80, 533, 521, 904], ydom: [0, 0.2], ymaj: 0.02, series: [c_D1, c_D1_5, c_D2, c_D2_5, c_D3, c_D5, c_D6, c_D8], ann: annC,
  curve: d3.curveMonotoneX, title: ["weak wetting", "gold NP"], tpos: [12.44, 0.1856, 12.44, 0.17], tfs: 19.5, tlen: 155,
  xt: [308, 939], yt: [24, 718], sub: "(c)", subp: [266, 983]});
dosPanel({box: [643, 525, 1084, 899], ydom: [0.01, 0.07], ymaj: 0.01, series: [d_D1, d_D1_5, d_D2, d_D2_5, d_D3, d_D5, d_D6, d_D8], ann: annD,
  curve: d3.curveLinear, title: ["weak wetting", "oxygen"], tpos: [12.48, 0.0655, 12.3, 0.0606], tfs: 19.5, tlen: 157,
  xt: [868, 935], yt: [588, 707], sub: "(d)", subp: [829, 983]});

// ---- panel (e)
(function () {
  const x = d3.scaleLinear().domain([0.35, 4.18]).range([92.5, 530]);
  const y = d3.scaleLinear().domain([0.0117, 0.014]).range([1381, 1038]);
  frame(x, y, {xMajor: steps(0.5, 4, 0.5), xMinor: steps(0.4, 4.1, 0.1), yMajor: steps(0.012, 0.014, 0.0005), yMinor: steps(0.0117, 0.014, 0.0001),
    majL: 10, minL: 5, tc: "#666", tw: 1.2, fc: "#444", fw: 1.6, pad: 2, fs: 18, yfs: 15});
  const clip = clipFor(x, y);
  const g = svg.append("g").attr("clip-path", clip);
  const rs = d3.range(0.35, 4.2, 0.01);
  const ln = d3.line().x(d => x(d[0])).y(d => y(d[1]));
  g.append("path").attr("d", ln(rs.map(r => [r, overlapFitWeak[0] + overlapFitWeak[1] / r]))).attr("fill", "none")
    .attr("stroke", colWeak).attr("stroke-width", 2.2).attr("stroke-dasharray", "2.5,3");
  g.append("path").attr("d", ln(rs.map(r => [r, overlapFitStrong[0] + overlapFitStrong[1] / r]))).attr("fill", "none")
    .attr("stroke", colStrong).attr("stroke-width", 2.4).attr("stroke-dasharray", "11,5");
  radius.forEach((r, i) => {
    g.append("path").attr("d", d3.symbol(d3.symbolCross, 48)()).attr("fill", colWeak)
      .attr("transform", `translate(${x(r)},${y(overlapWeak[i])}) rotate(45)`);
    g.append("path").attr("d", d3.symbol(d3.symbolDiamond, 50)()).attr("fill", colStrong)
      .attr("transform", `translate(${x(r)},${y(overlapStrong[i])})`);
  });
  text("weak wetting", x(2.15), y(0.012726), {fs: 17, fill: colWeak, len: 136});
  text("strong wetting", x(1.633), y(0.012102), {fs: 17, fill: colStrong, len: 148});
  text("Radius (nm)", 312, 1417, {fs: 23, len: 162});
  text("DoS overlap (arb. units)", 21, 1201, {fs: 22, rot: true, len: 312});
  text("(e)", 266, 1453, {fs: 24, fw: "normal", ff: "'Liberation Serif', serif"});
})();

// ---- panel (f)
(function () {
  const x = d3.scaleLinear().domain([0.78, 8.18]).range([644, 1097]);
  const y = d3.scaleLinear().domain([0.065, 0.22]).range([1383, 1040]);
  frame(x, y, {xMajor: steps(1, 8, 1), xMinor: steps(0.8, 8.2, 0.2), yMajor: steps(0.08, 0.22, 0.02), yMinor: steps(0.065, 0.22, 0.005),
    majL: 11, minL: 6, tc: "#666", tw: 1.2, fc: "#444", fw: 1.6, pad: 2, fs: 19});
  const clip = clipFor(x, y);
  const g = svg.append("g").attr("clip-path", clip);
  const ds = d3.range(0.78, 8.2, 0.02);
  const ln = d3.line().x(d => x(d[0])).y(d => y(d[1]));
  g.append("path").attr("d", ln(ds.map(d => [d, ampFitWeak[0] + ampFitWeak[1] * Math.exp(-d / ampFitWeak[2])]))).attr("fill", "none")
    .attr("stroke", colWeak).attr("stroke-width", 2.4).attr("stroke-dasharray", "3,3");
  g.append("path").attr("d", ln(ds.map(d => [d, ampFitStrong[0] + ampFitStrong[1] * Math.exp(-d / ampFitStrong[2])]))).attr("fill", "none")
    .attr("stroke", colStrong).attr("stroke-width", 2.6).attr("stroke-dasharray", "15,6");
  diam.forEach((d, i) => {
    g.append("circle").attr("cx", x(d)).attr("cy", y(ampStrong[i])).attr("r", 6.5).attr("fill", colStrong);
    g.append("path").attr("d", d3.symbol(d3.symbolCross, 130)()).attr("fill", colWeak)
      .attr("transform", `translate(${x(d)},${y(ampWeak[i])}) rotate(45)`);
  });
  text("strong wetting", x(2.38), y(0.1988), {fs: 17, fill: colStrong, len: 148});
  text("weak wetting", x(4.28), y(0.1106), {fs: 17, fill: colWeak, len: 136});
  text("Diameter (nm)", 876, 1419, {fs: 23, len: 196});
  text("Max. amplitude (arb. units)", 583, 1203, {fs: 22, rot: true, len: 317});
  text("(f)", 829, 1453, {fs: 24, fw: "normal", ff: "'Liberation Serif', serif"});

  // inset
  const xi = d3.scaleLinear().domain([0.95, 8.05]).range([852, 1088]);
  const yi = d3.scaleLinear().domain([10, 20]).range([1238, 1055]);
  svg.append("rect").attr("x", 852).attr("y", 1055).attr("width", 236).attr("height", 183).attr("fill", "#fff");
  frame(xi, yi, {xMajor: steps(1, 8, 1), xMinor: steps(1, 8, 0.2), yMajor: steps(10, 20, 1), yMinor: steps(10, 20, 0.5),
    majL: 5, minL: 3, tc: "#777", tw: 0.8, fc: "#333", fw: 1, pad: 2, fs: 10});
  const ci = clipFor(xi, yi);
  const gi = svg.append("g").attr("clip-path", ci);
  const lnI = d3.line().x(d => xi(d[0])).y(d => yi(d[1]));
  gi.append("path").attr("d", lnI([0.95, 8.05].map(d => [d, omegaFitStrong[1] + omegaFitStrong[0] * d]))).attr("stroke", colStrong)
    .attr("stroke-width", 1.3).attr("stroke-dasharray", "6,2").attr("fill", "none");
  gi.append("path").attr("d", lnI([0.95, 8.05].map(d => [d, omegaFitWeak[1] + omegaFitWeak[0] * d]))).attr("stroke", colWeak)
    .attr("stroke-width", 1.3).attr("stroke-dasharray", "1.5,1.5").attr("fill", "none");
  diam.forEach((d, i) => {
    gi.append("path").attr("d", d3.symbol(d3.symbolDiamond, 16)()).attr("fill", colStrong)
      .attr("transform", `translate(${xi(d)},${yi(omegaStrong[i])})`);
    gi.append("path").attr("d", d3.symbol(d3.symbolSquare, 18)()).attr("fill", colWeak)
      .attr("transform", `translate(${xi(d)},${yi(omegaWeak[i])})`);
  });
  text("strong wetting", xi(3.32), yi(16.78), {fs: 11.5, fill: colStrong, len: 96});
  text("weak wetting", xi(5.65), yi(14.86), {fs: 11.5, fill: colWeak, len: 88});
  text("Diameter (nm)", 968, 1257, {fs: 12.5, len: 96});
  text("ω (ps⁻¹)", 829, 1141, {fs: 12, rot: true});
})();
</script>
</body></html>
